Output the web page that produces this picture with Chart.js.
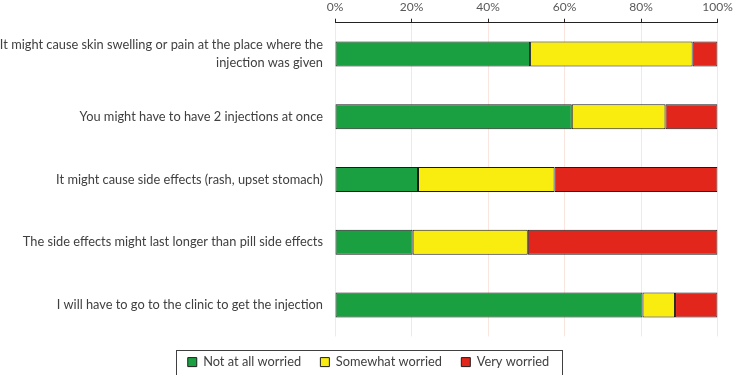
<!DOCTYPE html>
<html>
<head>
<meta charset="utf-8">
<script src="https://cdn.jsdelivr.net/npm/chart.js@4"></script>
<style>
  html, body { margin: 0; padding: 0; background: #fff; }
  #wrap { width: 733px; height: 375px; }
</style>
</head>
<body>
<div id="wrap"><canvas id="c" width="733" height="375"></canvas></div>
<script>
const categories = [
  ["It might cause skin swelling or pain at the place where the", "injection was given"],
  "You might have to have 2 injections at once",
  "It might cause side effects (rash, upset stomach)",
  "The side effects might last longer than pill side effects",
  "I will have to go to the clinic to get the injection"
];
const seriesNames = ["Not at all worried", "Somewhat worried", "Very worried"];
const notWorried = [51.0, 61.9, 21.7, 20.3, 80.4];
const somewhatWorried = [42.5, 24.5, 35.7, 30.1, 8.5];
const veryWorried = [6.5, 13.6, 42.6, 49.6, 11.1];
const tickValues = [0, 20, 40, 60, 80, 100];
const colors = ["#1aa041", "#f9ec0f", "#e3261b"];

const FONT = "Lato, 'Open Sans', sans-serif";

const legendTweak = {
  id: 'legendTweak',
  afterLayout(chart) {
    const lg = chart.legend;
    if (!lg) return;
    lg.left += 2; lg.right += 2;
  },
  afterDraw(chart) {
    const lg = chart.legend;
    if (!lg || !lg.legendHitBoxes || !lg.legendHitBoxes.length) return;
    const hb = lg.legendHitBoxes;
    const first = hb[0], last = hb[hb.length - 1];
    const cy = first.top + first.height / 2;
    const cx = (first.left + last.left + last.width) / 2;
    const ctx = chart.ctx;
    ctx.save();
    ctx.strokeStyle = '#404040';
    ctx.lineWidth = 1;
    const l = Math.round(cx - 193) + 0.5;
    const r = Math.round(cx + 193) + 0.5;
    const t = Math.round(cy - 12.5) + 0.5;
    const b = Math.round(cy + 12.5) + 0.5;
    ctx.strokeRect(l, t, r - l, b - t);
    ctx.restore();
  }
};

new Chart(document.getElementById('c'), {
  type: 'bar',
  data: {
    labels: categories,
    datasets: [
      { label: seriesNames[0], data: notWorried, backgroundColor: colors[0] },
      { label: seriesNames[1], data: somewhatWorried, backgroundColor: colors[1] },
      { label: seriesNames[2], data: veryWorried, backgroundColor: colors[2] }
    ].map(d => Object.assign(d, {
      borderColor: '#1a1a1a', borderWidth: 1, borderSkipped: false,
      barPercentage: 0.4, categoryPercentage: 1.0
    }))
  },
  options: {
    indexAxis: 'y',
    responsive: false,
    animation: false,
    devicePixelRatio: 1,
    layout: { padding: { left: 0, right: 0, top: 0, bottom: -3.5 } },
    scales: {
      x: {
        position: 'top',
        stacked: true,
        min: 0, max: 100,
        afterBuildTicks(scale) { scale.ticks = tickValues.map(v => ({ value: v })); },
        afterFit(scale) { scale.height = 22.7; scale.paddingRight = 15.5; scale.paddingLeft = 0; },
        ticks: {
          callback: v => v + '%',
          color: '#595959',
          font: { family: FONT, size: 12, lineHeight: 1.0 },
          padding: 5.5,
          maxRotation: 0
        },
        grid: { color: '#fbe6df', lineWidth: 1, tickColor: '#222', tickLength: 4, drawTicks: true },
        border: { display: true, color: '#222', width: 1 }
      },
      y: {
        stacked: true,
        afterFit(scale) { scale.width = 335; },
        ticks: {
          color: '#404040',
          font: { family: FONT, size: 12.8, lineHeight: 1.4 },
          padding: 12
        },
        grid: { display: false, drawTicks: false },
        border: { display: false }
      }
    },
    plugins: {
      legend: {
        position: 'bottom',
        labels: {
          boxWidth: 9, boxHeight: 9,
          color: '#404040',
          font: { family: FONT, size: 12.8 },
          padding: 19.3,
          generateLabels(chart) {
            return chart.data.datasets.map((d, i) => ({
              text: d.label, fillStyle: d.backgroundColor, strokeStyle: '#1e1e1e',
              lineWidth: 1, datasetIndex: i, hidden: false, fontColor: '#404040'
            }));
          }
        }
      },
      tooltip: { enabled: false }
    }
  },
  plugins: [legendTweak]
});
</script>
</body>
</html>
